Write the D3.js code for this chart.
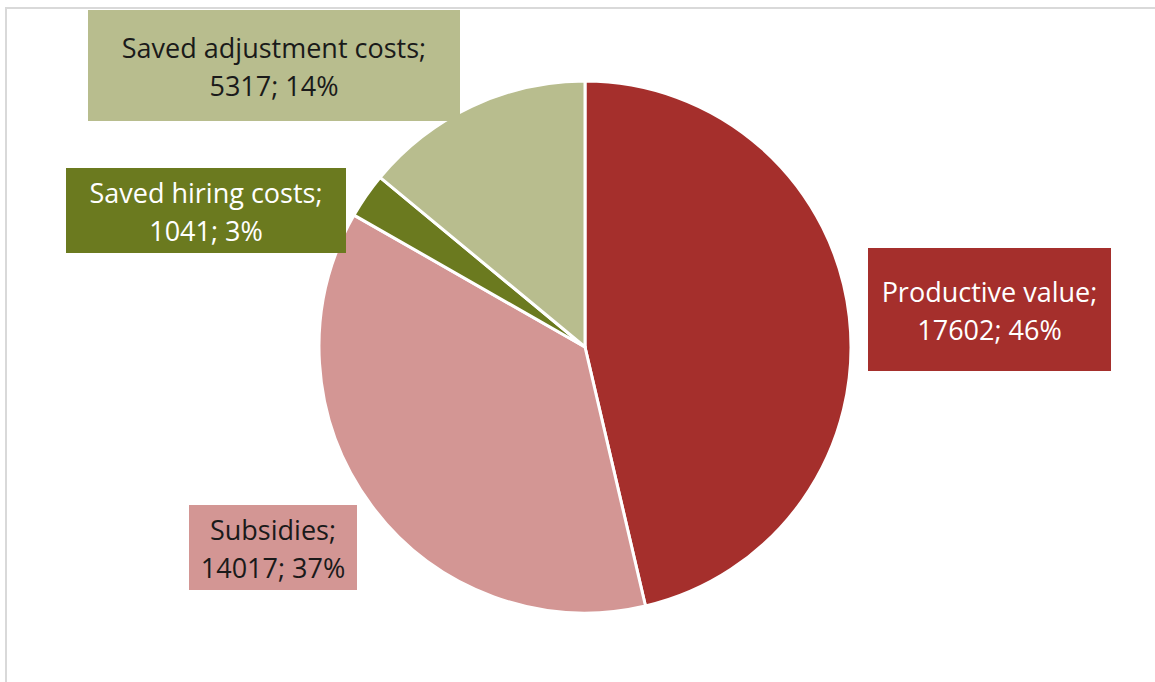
<!DOCTYPE html>
<html>
<head>
<meta charset="utf-8">
<script src="https://cdn.jsdelivr.net/npm/d3@7"></script>
<style>
	body { margin: 0; background: #fff; }
	text { font-family: "Open Sans", Lato, sans-serif; }
</style>
</head>
<body>
<div id="chart"></div>
<script>
	// slice data, clockwise from 12 o'clock
	var categories = ["Productive value", "Subsidies", "Saved hiring costs", "Saved adjustment costs"];
	var values = [17602, 14017, 1041, 5317];
	var percents = ["46%", "37%", "3%", "14%"];
	var colors = ["#A52F2C", "#D39694", "#6B7A1F", "#B8BD8E"];
	var textColors = ["#ffffff", "#1a1a1a", "#ffffff", "#1a1a1a"];

	var width = 1155,
		height = 682;

	var svg = d3.select("#chart")
		.append("svg")
		.attr("width", width)
		.attr("height", height);

	// chart area frame (only top and left edges visible)
	svg.append("line")
		.attr("x1", 5).attr("y1", 8).attr("x2", width).attr("y2", 8)
		.attr("stroke", "#d9d9d9").attr("stroke-width", 2);
	svg.append("line")
		.attr("x1", 6).attr("y1", 8).attr("x2", 6).attr("y2", height)
		.attr("stroke", "#d9d9d9").attr("stroke-width", 2);

	var data = categories.map(function (c, i) {
		return { name: c, value: values[i], pct: percents[i], color: colors[i], tc: textColors[i] };
	});

	var pie = d3.pie()
		.sort(null)
		.value(function (d) { return d.value; });

	var radius = 266;
	var arc = d3.arc().innerRadius(0).outerRadius(radius);

	var g = svg.append("g")
		.attr("transform", "translate(585,347)");

	g.selectAll("path")
		.data(pie(data))
		.enter()
		.append("path")
		.attr("d", arc)
		.attr("fill", function (d) { return d.data.color; })
		.attr("stroke", "#ffffff")
		.attr("stroke-width", 3)
		.attr("stroke-linejoin", "round");

	// label boxes: position of each box (left, top, width, height)
	var boxes = [
		[868, 248, 243, 123],
		[189, 505, 168, 85],
		[66, 168, 280, 85],
		[88, 10, 372, 111]
	];

	var labels = svg.selectAll("g.label")
		.data(data)
		.enter()
		.append("g")
		.attr("class", "label");

	labels.append("rect")
		.attr("x", function (d, i) { return boxes[i][0]; })
		.attr("y", function (d, i) { return boxes[i][1]; })
		.attr("width", function (d, i) { return boxes[i][2]; })
		.attr("height", function (d, i) { return boxes[i][3]; })
		.attr("fill", function (d) { return d.color; });

	labels.append("text")
		.attr("x", function (d, i) { return boxes[i][0] + boxes[i][2] / 2; })
		.attr("y", function (d, i) { return boxes[i][1] + boxes[i][3] / 2 - 8; })
		.attr("text-anchor", "middle")
		.style("font-size", "27px")
		.attr("fill", function (d) { return d.tc; })
		.text(function (d) { return d.name + ";"; });

	labels.append("text")
		.attr("x", function (d, i) { return boxes[i][0] + boxes[i][2] / 2; })
		.attr("y", function (d, i) { return boxes[i][1] + boxes[i][3] / 2 + 30; })
		.attr("text-anchor", "middle")
		.style("font-size", "27px")
		.attr("fill", function (d) { return d.tc; })
		.text(function (d) { return d.value + "; " + d.pct; });
</script>
</body>
</html>
